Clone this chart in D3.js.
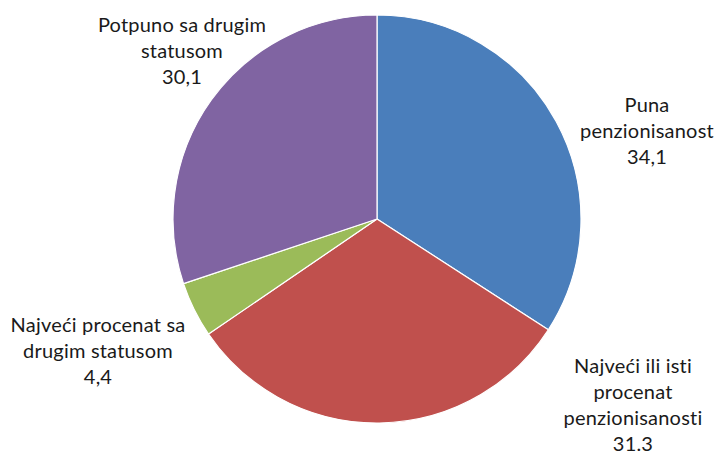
<!DOCTYPE html>
<html>
<head>
<meta charset="utf-8">
<script src="https://cdn.jsdelivr.net/npm/d3@7"></script>
<style>
  html, body { margin: 0; padding: 0; background: #fff; }
  svg text { font-family: Lato, "Open Sans", sans-serif; fill: #1a1a1a; }
</style>
</head>
<body>
<svg id="chart" width="719" height="455"></svg>
<script>
// ---- data ----
const categories = [
  ["Puna", "penzionisanost"],
  ["Najveći ili isti", "procenat", "penzionisanosti"],
  ["Najveći procenat sa", "drugim statusom"],
  ["Potpuno sa drugim", "statusom"]
];
const values = [34.1, 31.3, 4.4, 30.1];
const valueLabels = ["34,1", "31.3", "4,4", "30,1"];
const colors = ["#4A7EBB", "#C0504D", "#9BBB59", "#8064A2"];

// ---- layout ----
const cx = 377, cy = 219, R = 204;
// label block placement: offset of first baseline from pie centre
const labelOffsets = [[270, -107], [256, 154], [-279, 113], [-195, -187]];
const lineH = 26;

const svg = d3.select("#chart");
const g = svg.append("g").attr("transform", `translate(${cx},${cy})`);

const pie = d3.pie().sort(null).value(d => d)
  .startAngle(0).endAngle(2 * Math.PI * d3.sum(values) / 99.9);
const arc = d3.arc().innerRadius(0).outerRadius(R);

g.selectAll("path.slice")
  .data(pie(values))
  .join("path")
  .attr("class", "slice")
  .attr("d", arc)
  .attr("fill", (d, i) => colors[i])
  .attr("stroke", "#fff")
  .attr("stroke-width", 1.2)
  .attr("stroke-linejoin", "round");

const labels = g.selectAll("text.lbl")
  .data(categories)
  .join("text")
  .attr("class", "lbl")
  .attr("text-anchor", "middle")
  .attr("font-size", 20)
  .attr("letter-spacing", 0.2)
  .attr("transform", (d, i) => `translate(${labelOffsets[i][0]},${labelOffsets[i][1]})`);

labels.each(function(lines, i) {
  const t = d3.select(this);
  const all = lines.concat([valueLabels[i]]);
  all.forEach((s, k) => {
    t.append("tspan").attr("x", 0).attr("y", k * lineH).text(s);
  });
});
</script>
</body>
</html>
